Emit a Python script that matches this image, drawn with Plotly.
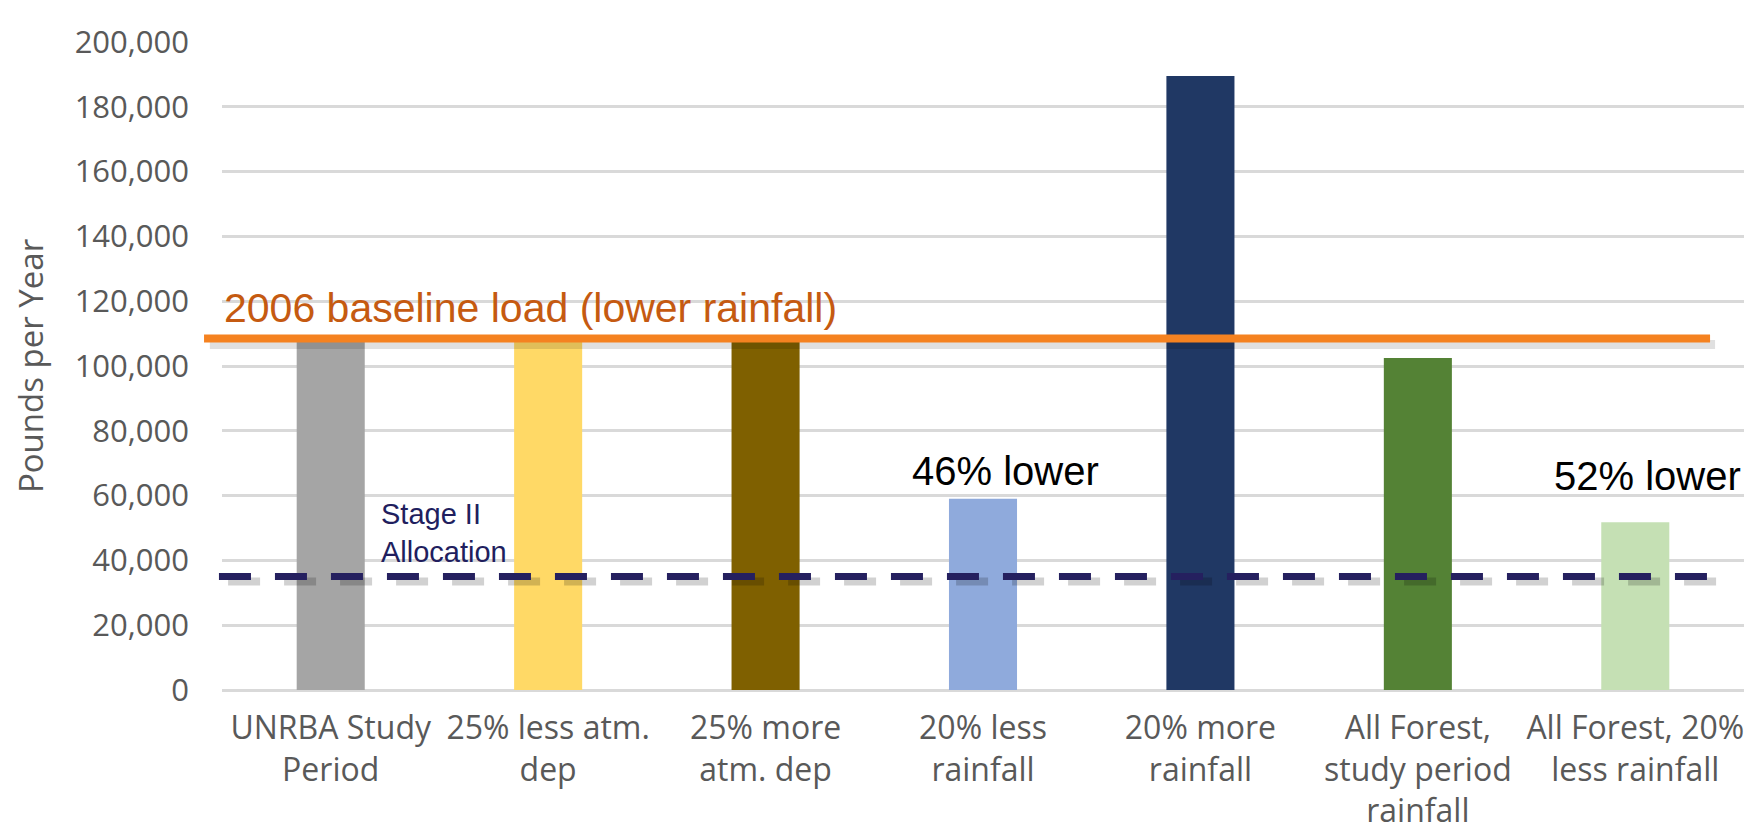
import plotly.graph_objects as go

categories = [
    "UNRBA Study<br>Period",
    "25% less atm.<br>dep",
    "25% more<br>atm. dep",
    "20% less<br>rainfall",
    "20% more<br>rainfall",
    "All Forest,<br>study period<br>rainfall",
    "All Forest, 20%<br>less rainfall",
]
loads = [108300, 107800, 109500, 59000, 189500, 102500, 51800]
bar_colors = ["#A5A5A5", "#FFD966", "#7F6000", "#8FAADC", "#203864", "#548235", "#C5E0B4"]

baseline_2006 = 108500
stage2_allocation = 35000

y_ticks = [0, 20000, 40000, 60000, 80000, 100000, 120000, 140000, 160000, 180000, 200000]

GRAY = "#595959"
ORANGE = "#F58220"
NAVY_DASH = "#25205F"

fig = go.Figure()
fig.add_trace(go.Bar(
    x=categories, y=loads, marker=dict(color=bar_colors, line=dict(width=0)),
    width=0.313, showlegend=False, hoverinfo="x+y",
))

shapes = [
    # shadow of baseline line
    dict(type="line", xref="paper", x0=-0.008, x1=0.981, yref="y", yanchor=baseline_2006,
         ysizemode="pixel", y0=-6, y1=-6, line=dict(color="rgba(0,0,0,0.12)", width=9), layer="above"),
    dict(type="line", xref="paper", x0=-0.0118, x1=0.9777, y0=baseline_2006, y1=baseline_2006,
         yref="y", line=dict(color=ORANGE, width=8), layer="above"),
    # shadow of allocation dashes
    dict(type="line", xref="paper", x0=0.004, x1=0.982, yref="y", yanchor=stage2_allocation,
         ysizemode="pixel", y0=-5, y1=-5, line=dict(color="rgba(0,0,0,0.18)", width=8, dash="32px,24px"),
         layer="above"),
    dict(type="line", xref="paper", x0=-0.002, x1=0.9757, y0=stage2_allocation, y1=stage2_allocation,
         yref="y", line=dict(color=NAVY_DASH, width=7, dash="32px,24px"), layer="above"),
]

annotations = [
    dict(text="2006 baseline load (lower rainfall)", xref="paper", x=0.0, xanchor="left",
         yref="y", y=118000, yanchor="middle", showarrow=False,
         font=dict(family="Liberation Sans, Arial", size=41, color="#C55A11")),
    dict(text="46% lower", xref="x", x=categories[3], xshift=22, xanchor="center",
         yref="y", y=67600, yanchor="middle", showarrow=False,
         font=dict(family="Liberation Sans, Arial", size=40, color="#000000")),
    dict(text="52% lower", xref="x", x=categories[6], xshift=12, xanchor="center",
         yref="y", y=66100, yanchor="middle", showarrow=False,
         font=dict(family="Liberation Sans, Arial", size=40, color="#000000")),
    dict(text="Stage II<br>Allocation", xref="paper", x=0.103, xanchor="left", align="left",
         yref="y", y=48600, yanchor="middle", showarrow=False,
         font=dict(family="Liberation Sans, Arial", size=29, color="#211E5E")),
]

fig.update_layout(
    width=1754, height=835,
    margin=dict(l=214, r=18, t=25, b=147),
    paper_bgcolor="white", plot_bgcolor="white",
    shapes=shapes, annotations=annotations,
    bargap=0.687,
    xaxis=dict(
        showline=False, showgrid=False, ticks="",
        tickfont=dict(family="Open Sans", size=32, color=GRAY),
        ticklabelstandoff=16,
    ),
    yaxis=dict(
        range=[0, 200000], tickvals=y_ticks, tickformat=",",
        showgrid=True, gridcolor="#D9D9D9", gridwidth=3,
        zeroline=True, zerolinecolor="#D9D9D9", zerolinewidth=3,
        showline=False, ticks="",
        tickfont=dict(family="Open Sans", size=31, color=GRAY),
        ticklabelstandoff=32,
        title=dict(text="Pounds per Year", font=dict(family="Open Sans", size=33, color=GRAY), standoff=22),
    ),
)

fig.write_html("out.html")
